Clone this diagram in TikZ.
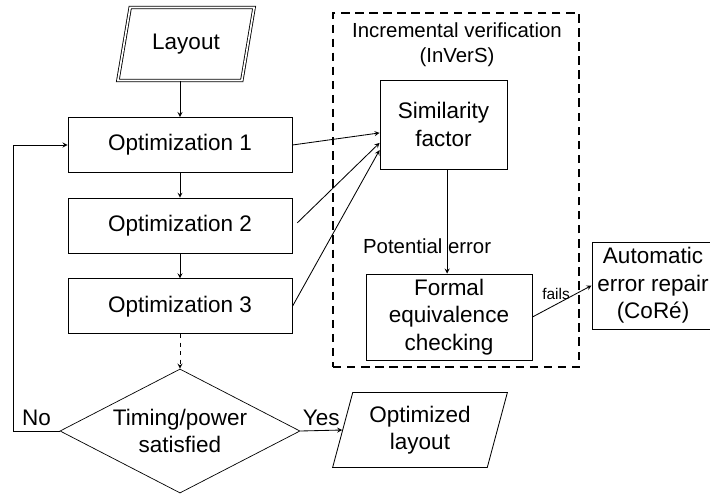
\documentclass[tikz,border=0pt]{standalone}
\usepackage{fontspec}
\setmainfont{Liberation Sans}
\usetikzlibrary{shapes.geometric, arrows, positioning}

\begin{document}
\begin{tikzpicture}[x=0.025cm, y=-0.025cm,
    node distance=0.62cm and 2cm,
    box/.style={draw, line width=0.6pt, minimum height=1.375cm, align=center, font=\fontsize{16}{19.5}\selectfont},
    io/.style={draw, line width=0.6pt, trapezium, trapezium left angle=74, trapezium right angle=106, trapezium stretches=true, align=center, font=\fontsize{16}{19.5}\selectfont},
    decision/.style={draw, line width=0.5pt, diamond, shape aspect=1.94, inner sep=0pt, minimum width=6cm, minimum height=3.1cm, align=center, font=\fontsize{16}{19.5}\selectfont},
    group/.style={draw, dashed, line width=1.2pt, dash pattern=on 6pt off 4pt, minimum width=6.15cm, minimum height=8.85cm},
    lbl/.style={font=\fontsize{14.5}{18}\selectfont, align=center},
    arrow/.style={draw, line width=0.6pt, ->, >=stealth}
]
    \useasboundingbox (0,0) rectangle (710,494);

    % Nodes
    \node[io, double, double distance=1.2pt, minimum width=3.425cm, minimum height=1.825cm] (layout) at (186,44) {Layout};
    \node[box, minimum width=5.6cm] (opt1) at (180,145) {Optimization 1};
    \node[box, minimum width=5.6cm, below=of opt1] (opt2) {Optimization 2};
    \node[box, minimum width=5.6cm, below=of opt2] (opt3) {Optimization 3};
    \node[decision] (cond) at (180,431) {Timing/power\\satisfied};
    \node[io, minimum width=4.375cm, minimum height=1.875cm] (optlayout) at (420,430) {Optimized\\layout};

    \node[group] (inv) at (456,190) {};
    \node[lbl] (invtitle) at (457,45) {Incremental verification\\(InVerS)};
    \node[box, minimum width=3.175cm, minimum height=2.225cm] (sim) at (443.5,124.5) {Similarity\\factor};
    \node[box, minimum width=4.15cm, minimum height=2.15cm] (formal) at (449,317) {Formal\\equivalence\\checking};
    \node[box, minimum width=3.05cm, minimum height=2.175cm] (repair) at (653,285.5) {Automatic\\error repair\\(CoRé)};

    % Connections
    \draw[arrow] (opt1.north |- layout.south) -- (opt1.north);
    \draw[arrow] (opt1) -- (opt2);
    \draw[arrow] (opt2) -- (opt3);
    \draw[arrow, dashed] (opt3) -- (cond);
    \draw[arrow] (cond.west) -- node[above, font=\fontsize{16}{19.5}\selectfont] {No} ++(-46,0) |- (opt1.west);
    \draw[arrow] (cond.east) -- node[above, font=\fontsize{16}{19.5}\selectfont] {Yes} (optlayout.west);

    \draw[arrow] (opt1.east) -- ([yshift=-0.21cm]sim.west);
    \draw[arrow] ([xshift=0.12cm, yshift=0.07cm]opt2.east) -- ([yshift=-0.46cm]sim.west);
    \draw[arrow] (opt3.east) -- ([yshift=-0.64cm]sim.west);

    \draw[arrow] ([xshift=0.09cm]sim.south) -- node[pos=0.74, xshift=-0.5cm, lbl] {Potential error} ([xshift=0.09cm]sim.south |- formal.north);
    \draw[arrow] (formal.east) -- node[above, pos=0.4, font=\fontsize{11}{13}\selectfont] {fails} (repair.west);

\end{tikzpicture}
\end{document}
